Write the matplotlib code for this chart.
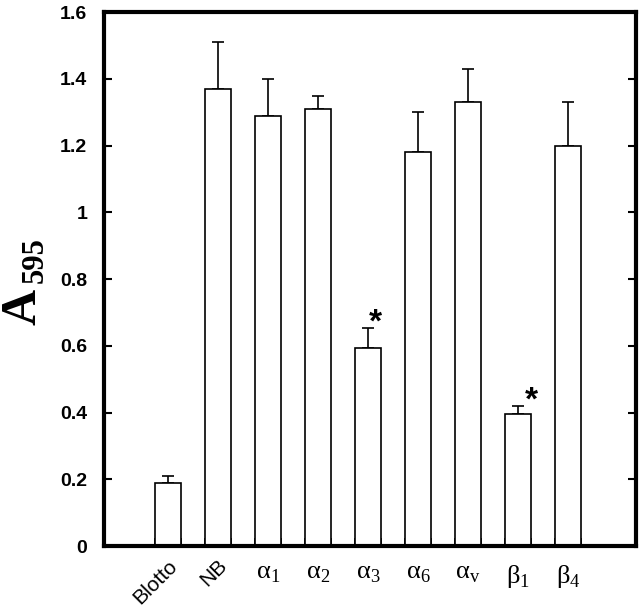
import matplotlib.pyplot as plt
import numpy as np

# values
labels = ['Blotto', 'NB', r'$\mathrm{α}_\mathrm{1}$', r'$\mathrm{α}_\mathrm{2}$',
          r'$\mathrm{α}_\mathrm{3}$', r'$\mathrm{α}_\mathrm{6}$', r'$\mathrm{α}_\mathrm{v}$',
          r'$\mathrm{β}_\mathrm{1}$', r'$\mathrm{β}_\mathrm{4}$']
means = [0.19, 1.37, 1.29, 1.31, 0.593, 1.18, 1.33, 0.397, 1.20]
errors = [0.02, 0.14, 0.11, 0.04, 0.061, 0.12, 0.10, 0.022, 0.13]
significant = [4, 7]  # indices marked with *
star_offset = [0.15, 0.26]
y_ticks = [0, 0.2, 0.4, 0.6, 0.8, 1, 1.2, 1.4, 1.6]

plt.rcParams['mathtext.fontset'] = 'custom'
plt.rcParams['mathtext.rm'] = 'Liberation Serif'

fig = plt.figure(figsize=(6.39, 6.06), dpi=100)
ax = fig.add_axes([0.1628, 0.099, 0.8325, 0.881])

x = np.arange(len(means))
width = 0.52
ax.bar(x, means, width=width, color='white', edgecolor='black', linewidth=1.2, zorder=2)
ax.errorbar(x, means, yerr=[np.zeros(len(errors)), errors], fmt='none',
            ecolor='black', elinewidth=1.2, capsize=4, capthick=1.2, zorder=1)

for idx, off in zip(significant, star_offset):
    ax.text(x[idx] + off, means[idx] + errors[idx] - 0.01, '*', ha='center', va='baseline',
            fontsize=24, fontweight='bold', family='Liberation Sans')

ax.set_xlim(-1.28, 9.36)
ax.set_ylim(0, 1.6)

ax.set_yticks(y_ticks)
ax.set_yticklabels(['0', '0.2', '0.4', '0.6', '0.8', '1', '1.2', '1.4', '1.6'],
                   fontsize=14, fontweight='bold', family='Liberation Sans')
ax.tick_params(axis='y', direction='in', length=6, width=1.5, right=True, pad=12)

ax.set_xticks(x)
ax.set_xticklabels([])
ax.set_xticks(np.concatenate([x - width / 2, x + width / 2]), minor=True)
ax.tick_params(axis='x', which='major', length=0)
ax.tick_params(axis='x', which='minor', direction='in', length=6, width=1.2)

for spine in ax.spines.values():
    spine.set_linewidth(3)

# category labels
for i, lab in enumerate(labels):
    if i < 2:
        ax.text(x[i] + 0.25, -0.03, lab, rotation=45, ha='right', va='top',
                fontsize=15, family='Liberation Sans')
    else:
        ax.text(x[i], -0.05, lab, ha='center', va='top', fontsize=19,
                family='Liberation Serif')

# y axis label: A with subscript 595
fig.text(0.036, 0.493, 'A', rotation=90, ha='center', va='center',
         fontsize=36, fontweight='bold', family='Liberation Serif')
fig.text(0.055, 0.571, '595', rotation=90, ha='center', va='center',
         fontsize=22, fontweight='bold', family='Liberation Serif')

fig.savefig('out.png', dpi=100)
